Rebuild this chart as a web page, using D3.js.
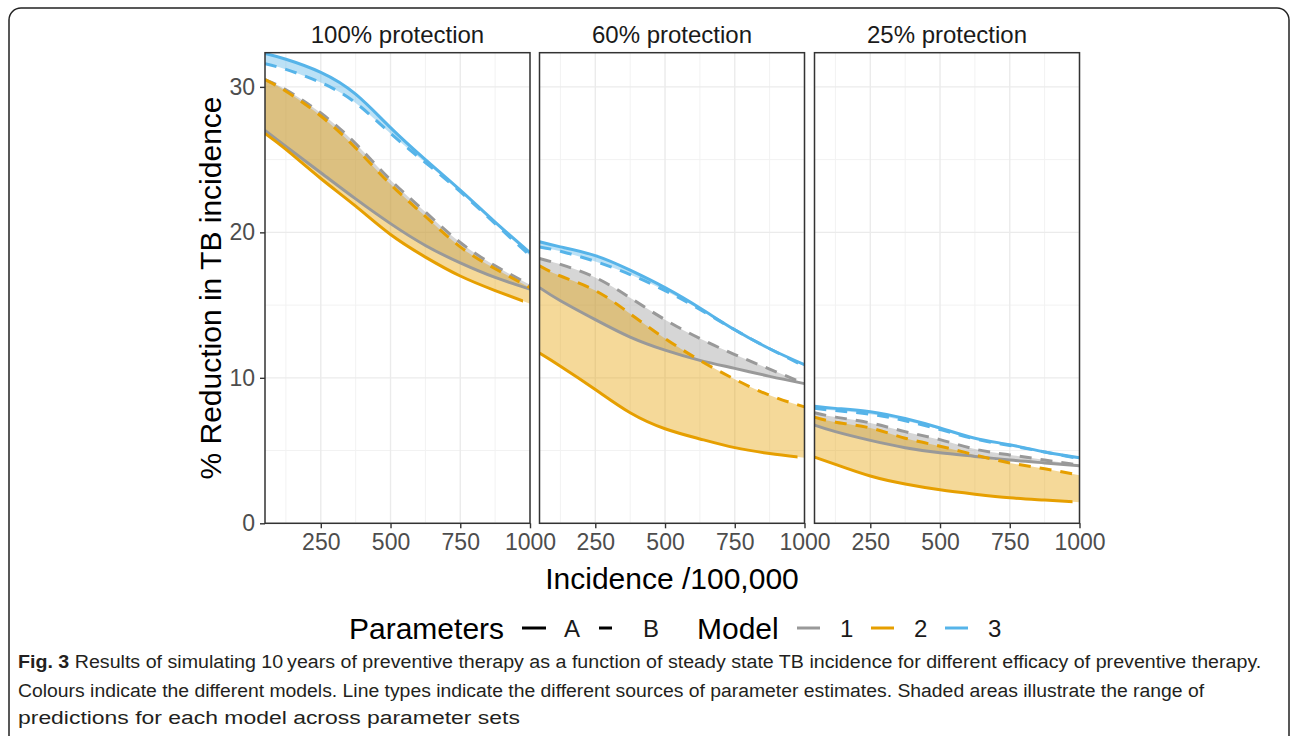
<!DOCTYPE html>
<html>
<head>
<meta charset="utf-8">
<script src="https://cdn.jsdelivr.net/npm/d3@7"></script>
<style>
  body { margin: 0; background: #fff; }
  svg text { font-family: "Liberation Sans", Arial, sans-serif; }
</style>
</head>
<body>
<svg width="1290" height="736"></svg>
<script>
// incidence per 100,000 (x values shared by every series)
const incidence = [50, 125, 250, 375, 500, 625, 750, 875, 1000];
const panels = ['100% protection', '60% protection', '25% protection'];
const models = ['1', '2', '3'];
const paramSets = ['A', 'B'];
const xTicks = [250, 500, 750, 1000];
const xMinor = [125, 375, 625, 875];
const yTicks = [0, 10, 20, 30];
const yMinor = [5, 15, 25];
const model2ALastX = 975; // model 2 / parameters A line stops short of 1000

// 100% protection
const p100_m1_A = [27.0, 25.9, 24.1, 22.3, 20.6, 19.1, 17.9, 16.9, 16.1];
const p100_m1_B = [30.5, 29.8, 28.2, 26.1, 23.6, 21.4, 19.3, 17.7, 16.4];
const p100_m2_A = [26.8, 25.7, 23.7, 21.8, 19.85, 18.3, 17.0, 16.0, 15.1];
const p100_m2_B = [30.5, 29.7, 28.0, 25.8, 23.3, 21.1, 19.0, 17.5, 16.2];
const p100_m3_A = [32.3, 31.9, 31.0, 29.5, 27.2, 25.0, 22.9, 20.7, 18.6];
const p100_m3_B = [31.6, 31.2, 30.3, 28.9, 26.8, 24.8, 22.8, 20.6, 18.4];
// 60% protection
const p60_m1_A = [16.2, 15.3, 14.0, 12.8, 11.9, 11.2, 10.65, 10.1, 9.6];
const p60_m1_B = [18.2, 17.8, 16.9, 15.5, 14.0, 12.7, 11.6, 10.6, 9.6];
const p60_m2_A = [11.7, 10.8, 9.2, 7.6, 6.5, 5.8, 5.2, 4.8, 4.5];
const p60_m2_B = [17.7, 17.0, 16.0, 14.4, 12.7, 11.2, 9.9, 8.8, 8.0];
const p60_m3_A = [19.35, 19.0, 18.4, 17.4, 16.2, 14.8, 13.3, 12.0, 10.9];
const p60_m3_B = [19.0, 18.7, 18.0, 17.1, 16.0, 14.7, 13.3, 12.0, 10.8];
// 25% protection
const p25_m1_A = [6.75, 6.3, 5.7, 5.2, 4.85, 4.6, 4.35, 4.15, 3.95];
const p25_m1_B = [7.6, 7.3, 6.9, 6.3, 5.75, 5.1, 4.7, 4.35, 4.0];
const p25_m2_A = [4.55, 4.05, 3.25, 2.7, 2.3, 2.0, 1.75, 1.6, 1.45];
const p25_m2_B = [7.3, 6.95, 6.55, 5.85, 5.3, 4.7, 4.15, 3.75, 3.3];
const p25_m3_A = [8.05, 7.9, 7.67, 7.2, 6.55, 5.85, 5.4, 4.9, 4.5];
const p25_m3_B = [7.9, 7.75, 7.5, 7.05, 6.45, 5.8, 5.35, 4.9, 4.45];

const series = [
  [[p100_m1_A, p100_m1_B], [p100_m2_A, p100_m2_B], [p100_m3_A, p100_m3_B]],
  [[p60_m1_A, p60_m1_B], [p60_m2_A, p60_m2_B], [p60_m3_A, p60_m3_B]],
  [[p25_m1_A, p25_m1_B], [p25_m2_A, p25_m2_B], [p25_m3_A, p25_m3_B]]
];

const colours = ['#999999', '#E69F00', '#56B4E9'];

const panelLefts = [265, 539.5, 814.5];
const panelWidth = 265;
const panelTop = 52.7, panelBottom = 523.3;

const svg = d3.select('svg');

// outer figure box
svg.append('rect')
  .attr('x', 9).attr('y', 8).attr('width', 1280).attr('height', 800)
  .attr('rx', 12)
  .attr('fill', 'none').attr('stroke', '#222').attr('stroke-width', 1.5);

const y = d3.scaleLinear().domain([0, 32.35]).range([panelBottom, panelTop]);

panels.forEach(function(title, pi) {
  const left = panelLefts[pi];
  const x = d3.scaleLinear().domain([50, 1000]).range([left, left + panelWidth]);
  const g = svg.append('g');

  const clipId = 'clip' + pi;
  svg.append('clipPath').attr('id', clipId)
    .append('rect').attr('x', left).attr('y', panelTop)
    .attr('width', panelWidth).attr('height', panelBottom - panelTop);
  const clipId2 = 'clipB' + pi;
  svg.append('clipPath').attr('id', clipId2)
    .append('rect').attr('x', left).attr('y', panelTop)
    .attr('width', x(model2ALastX) - left).attr('height', panelBottom - panelTop);

  // grid
  g.selectAll('.xminor').data(xMinor).enter().append('line')
    .attr('x1', d => x(d)).attr('x2', d => x(d)).attr('y1', panelTop).attr('y2', panelBottom)
    .attr('stroke', '#f2f2f2').attr('stroke-width', 1);
  g.selectAll('.yminor').data(yMinor).enter().append('line')
    .attr('y1', d => y(d)).attr('y2', d => y(d)).attr('x1', left).attr('x2', left + panelWidth)
    .attr('stroke', '#f2f2f2').attr('stroke-width', 1);
  g.selectAll('.xmajor').data(xTicks).enter().append('line')
    .attr('x1', d => x(d)).attr('x2', d => x(d)).attr('y1', panelTop).attr('y2', panelBottom)
    .attr('stroke', '#ebebeb').attr('stroke-width', 1.4);
  g.selectAll('.ymajor').data(yTicks).enter().append('line')
    .attr('y1', d => y(d)).attr('y2', d => y(d)).attr('x1', left).attr('x2', left + panelWidth)
    .attr('stroke', '#ebebeb').attr('stroke-width', 1.4);

  const area = d3.area()
    .x(d => x(d.x)).y0(d => y(d.a)).y1(d => y(d.b))
    .curve(d3.curveNatural);
  const line = d3.line()
    .x(d => x(d.x)).y(d => y(d.v))
    .curve(d3.curveNatural);

  const data = series[pi];
  const plot = g.append('g').attr('clip-path', 'url(#' + clipId + ')');

  // ribbons
  models.forEach(function(m, mi) {
    const pts = incidence.map((xv, i) => ({x: xv, a: data[mi][0][i], b: data[mi][1][i]}));
    plot.append('path')
      .attr('d', area(pts))
      .attr('fill', colours[mi]).attr('fill-opacity', 0.4);
  });

  // lines
  models.forEach(function(m, mi) {
    paramSets.forEach(function(p, si) {
      const pts = incidence.map((xv, i) => ({x: xv, v: data[mi][si][i]}));
      const path = plot.append('path')
        .attr('d', line(pts))
        .attr('fill', 'none')
        .attr('stroke', colours[mi])
        .attr('stroke-width', 3)
        .attr('stroke-dasharray', p === 'B' ? '12,9' : null);
      if (m === '2' && p === 'A') {
        path.attr('clip-path', 'url(#' + clipId2 + ')');
      }
    });
  });

  // border
  g.append('rect')
    .attr('x', left).attr('y', panelTop).attr('width', panelWidth).attr('height', panelBottom - panelTop)
    .attr('fill', 'none').attr('stroke', '#333').attr('stroke-width', 1.5);

  // strip title
  g.append('text')
    .attr('x', left + panelWidth / 2).attr('y', 43)
    .attr('text-anchor', 'middle')
    .attr('font-size', 24).attr('fill', '#1a1a1a')
    .text(title);

  // x axis
  const ax = g.append('g')
    .attr('transform', `translate(0, ${panelBottom})`)
    .call(d3.axisBottom(x).tickValues(xTicks).tickFormat(d3.format('d')).tickSize(5).tickPadding(5));
  ax.select('.domain').remove();
  ax.selectAll('line').attr('stroke', '#333').attr('stroke-width', 1.4);
  ax.selectAll('text').attr('font-size', 23).attr('fill', '#4d4d4d')
    .attr('font-family', '"Liberation Sans", Arial, sans-serif');

  if (pi === 0) {
    const ay = g.append('g')
      .attr('transform', `translate(${left}, 0)`)
      .call(d3.axisLeft(y).tickValues(yTicks).tickSize(5).tickPadding(5));
    ay.select('.domain').remove();
    ay.selectAll('line').attr('stroke', '#333').attr('stroke-width', 1.4);
    ay.selectAll('text').attr('font-size', 23).attr('fill', '#4d4d4d')
      .attr('font-family', '"Liberation Sans", Arial, sans-serif');
  }
});

// axis titles
svg.append('text')
  .attr('x', 672).attr('y', 589)
  .attr('text-anchor', 'middle').attr('font-size', 30).attr('fill', '#000')
  .text('Incidence /100,000');
svg.append('text')
  .attr('transform', `translate(221, ${(panelTop + panelBottom) / 2}) rotate(-90)`)
  .attr('text-anchor', 'middle').attr('font-size', 30).attr('fill', '#000')
  .text('% Reduction in TB incidence');

// legend
const leg = svg.append('g');
const legY = 628;
leg.append('text').attr('x', 349).attr('y', legY + 11).attr('font-size', 30).text('Parameters');
leg.append('line').attr('x1', 522).attr('x2', 546).attr('y1', legY).attr('y2', legY)
  .attr('stroke', '#000').attr('stroke-width', 3);
leg.append('text').attr('x', 564).attr('y', legY + 8.5).attr('font-size', 24).attr('fill', '#1a1a1a').text(paramSets[0]);
leg.append('line').attr('x1', 599).attr('x2', 612).attr('y1', legY).attr('y2', legY)
  .attr('stroke', '#000').attr('stroke-width', 3);
leg.append('text').attr('x', 643).attr('y', legY + 8.5).attr('font-size', 24).attr('fill', '#1a1a1a').text(paramSets[1]);
leg.append('text').attr('x', 697).attr('y', legY + 11).attr('font-size', 30).text('Model');
const keyX = [797, 871, 945];
models.forEach(function(m, mi) {
  leg.append('line').attr('x1', keyX[mi]).attr('x2', keyX[mi] + 23).attr('y1', legY).attr('y2', legY)
    .attr('stroke', colours[mi]).attr('stroke-width', 3);
  leg.append('text').attr('x', keyX[mi] + 43).attr('y', legY + 8.5).attr('font-size', 24)
    .attr('fill', '#1a1a1a').text(m);
});

// caption
const captionLines = [
  {bold: 'Fig. 3', text: ' Results of simulating 10\u2009years of preventive therapy as a function of steady state TB incidence for different efficacy of preventive therapy.', y: 668, right: 1262},
  {bold: '', text: 'Colours indicate the different models. Line types indicate the different sources of parameter estimates. Shaded areas illustrate the range of', y: 697, right: 1205},
  {bold: '', text: 'predictions for each model across parameter sets', y: 724, right: 520}
];
captionLines.forEach(function(c) {
  const t = svg.append('text')
    .attr('font-size', 19).attr('fill', '#231f20')
    .style('font-family', '"Liberation Sans Narrow", "Liberation Sans", Arial, sans-serif');
  if (c.bold) t.append('tspan').attr('font-weight', 'bold').text(c.bold);
  t.append('tspan').text(c.text);
  const w = t.node().getComputedTextLength();
  const k = (c.right - 18) / w;
  t.attr('transform', `translate(18, ${c.y}) scale(${k}, 1)`);
});
</script>
</body>
</html>
